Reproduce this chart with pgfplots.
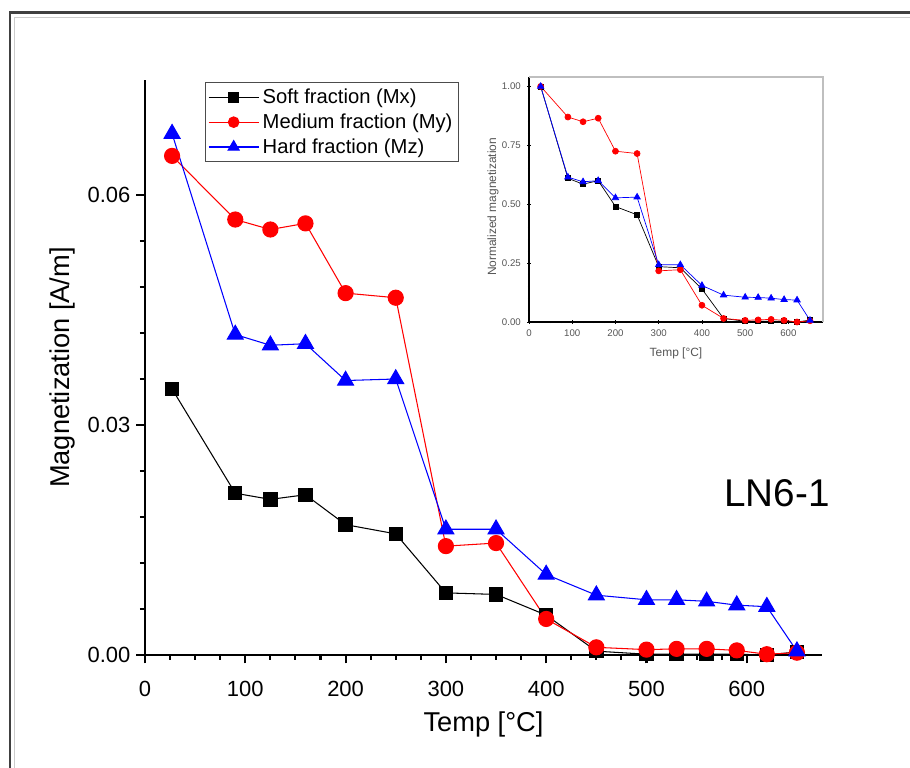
\documentclass[border=0pt]{standalone}
\usepackage{fontspec}
\setmainfont{Liberation Sans}
\usepackage{pgfplots}
\usepackage{pgfplotstable}
\pgfplotsset{compat=1.18}

% thermal demagnetisation of the three IRM fractions, sample LN6-1
\pgfplotstableread{
T    Mx      My      Mz
27   0.0347  0.0651  0.0680
90   0.0211  0.0568  0.0418
125  0.0203  0.0555  0.0404
160  0.0209  0.0563  0.0406
200  0.0170  0.0472  0.0358
250  0.0158  0.0466  0.0360
300  0.0081  0.0142  0.0164
350  0.0079  0.0146  0.0164
400  0.0052  0.0047  0.0105
450  0.0005  0.0010  0.0078
500  0.0001  0.0007  0.0072
530  0.0001  0.0008  0.0072
560  0.0001  0.0008  0.0070
590  0.0001  0.0006  0.0065
620  0.0000  0.0001  0.0063
650  0.0004  0.0003  0.0005
}\magdata

% same, normalised to the first step
\pgfplotstableread{
T    Nx     Ny     Nz
27   1.000  1.000  1.000
90   0.610  0.870  0.615
125  0.585  0.850  0.595
160  0.600  0.865  0.600
200  0.490  0.725  0.527
250  0.455  0.715  0.530
300  0.235  0.217  0.243
350  0.230  0.222  0.243
400  0.140  0.071  0.155
450  0.015  0.015  0.114
500  0.003  0.007  0.105
530  0.003  0.009  0.104
560  0.003  0.011  0.101
590  0.003  0.007  0.095
620  0.000  0.000  0.093
650  0.008  0.005  0.007
}\normdata

\definecolor{framegray}{RGB}{64,64,64}
\definecolor{labgray}{RGB}{85,85,85}

\begin{document}
\begin{tikzpicture}
\useasboundingbox (0,0) rectangle (18.2cm,15.36cm);
% window frame
\draw[framegray, line width=1.7pt] (0.2cm,-0.1cm) -- (0.2cm,15.1cm) -- (18.4cm,15.1cm);
\draw[gray!40, line width=0.5pt] (0.28cm,-0.1cm) -- (0.28cm,15.02cm) -- (18.4cm,15.02cm);

\begin{axis}[
  at={(2.9cm,2.26cm)}, anchor=south west,
  scale only axis, width=13.54cm, height=11.5cm,
  xmin=0, xmax=675, ymin=0, ymax=0.075,
  axis x line*=bottom, axis y line*=left,
  axis line style={line width=1.2pt},
  every tick/.style={black, line width=1.2pt},
  tick align=outside,
  major tick length=0.17cm, minor tick length=0.1cm,
  xtick={0,100,...,600}, minor x tick num=3,
  ytick={0,0.03,0.06}, minor y tick num=4,
  scaled y ticks=false,
  y tick label style={/pgf/number format/fixed, /pgf/number format/zerofill,
    /pgf/number format/precision=2},
  x tick label style={yshift=-0.22cm},
  /pgf/number format/assume math mode=true,
  ticklabel style={font=\fontsize{12.5}{14}\selectfont},
  xlabel={Temp [°C]}, ylabel={Magnetization [A/m]},
  label style={font=\fontsize{15.5}{18}\selectfont},
  xlabel style={at={(axis description cs:0.5,-0.12)}, anchor=center},
  ylabel style={at={(axis description cs:-0.1226,0.5)}, anchor=center},
  clip=false,
  legend style={at={(axis description cs:0.0886,0.9965)}, anchor=north west,
    draw=black!70, line width=0.6pt, font=\fontsize{11.5}{13}\selectfont,
    inner sep=1.5pt, row sep=0.3pt},
  legend cell align=left,
  legend image code/.code={
    \draw[mark repeat=2, mark phase=2, #1, every mark/.append style={scale=0.7}]
      plot coordinates {(0cm,0cm) (0.5cm,0cm) (1.0cm,0cm)};},
]
\addplot[black, line width=0.6pt, mark=square*, mark size=3.8pt,
  mark options={solid}] table[x=T, y=Mx] {\magdata};
\addlegendentry{Soft fraction (Mx)}
\addplot[red, line width=0.6pt, mark=*, mark size=4.3pt,
  mark options={solid}] table[x=T, y=My] {\magdata};
\addlegendentry{Medium fraction (My)}
\addplot[blue, line width=0.6pt, mark=triangle*, mark size=5.2pt,
  mark options={solid}] table[x=T, y=Mz] {\magdata};
\addlegendentry{Hard fraction (Mz)}
\node[font=\fontsize{22}{25}\selectfont] at (rel axis cs:0.9335,0.2817) {LN6-1};
\end{axis}

% inset
\begin{axis}[
  at={(10.58cm,8.92cm)}, anchor=south west,
  scale only axis, width=5.88cm, height=4.9cm,
  xmin=0, xmax=680, ymin=0, ymax=1.04,
  axis x line*=bottom, axis y line*=left,
  axis line style={line width=0.6pt},
  every tick/.style={black, line width=0.5pt},
  tick align=center,
  major tick length=0.08cm, minor tick length=0.05cm,
  xtick={0,100,...,600}, minor x tick num=3,
  ytick={0,0.25,0.5,0.75,1}, minor y tick num=4,
  y tick label style={/pgf/number format/fixed, /pgf/number format/zerofill,
    /pgf/number format/precision=2},
  /pgf/number format/assume math mode=true,
  ticklabel style={font=\fontsize{5.5}{6.5}\selectfont, labgray},
  xlabel={Temp [°C]}, ylabel={Normalized magnetization},
  label style={font=\fontsize{6.8}{8}\selectfont, labgray},
  xlabel style={at={(axis description cs:0.5,-0.127)}, anchor=center},
  ylabel style={at={(axis description cs:-0.1224,0.47)}, anchor=center},
  clip=false,
  after end axis/.code={
    \draw[gray!50, line width=0.6pt] (rel axis cs:0,1) -- (rel axis cs:1,1) -- (rel axis cs:1,0);},
]
\addplot[black, line width=0.4pt, mark=square*, mark size=1.4pt,
  mark options={solid}] table[x=T, y=Nx] {\normdata};
\addplot[red, line width=0.4pt, mark=*, mark size=1.7pt,
  mark options={solid}] table[x=T, y=Ny] {\normdata};
\addplot[blue, line width=0.4pt, mark=triangle*, mark size=2.1pt,
  mark options={solid}] table[x=T, y=Nz] {\normdata};
\end{axis}
\end{tikzpicture}
\end{document}
